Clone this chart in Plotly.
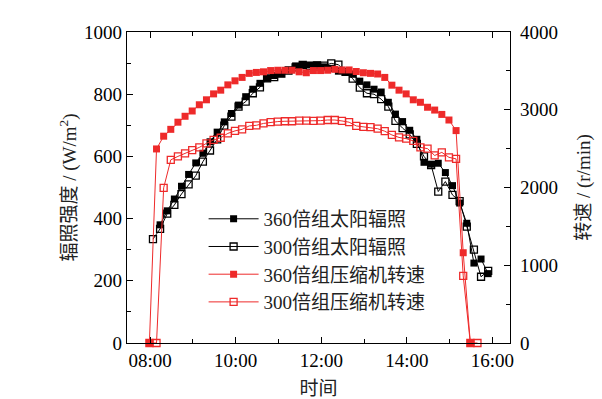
import plotly.graph_objects as go

# ---- data ----
# sampling times (10-min logger) for compressor speed and irradiance
t_speed = ["07:59", "08:09", "08:19", "08:29", "08:39", "08:49", "08:59",
           "09:09", "09:19", "09:29", "09:39", "09:49", "09:59",
           "10:09", "10:19", "10:29", "10:39", "10:49", "10:59",
           "11:09", "11:19", "11:29", "11:39", "11:49", "11:59",
           "12:09", "12:19", "12:29", "12:39", "12:49", "12:59",
           "13:09", "13:19", "13:29", "13:39", "13:49", "13:59",
           "14:09", "14:19", "14:29", "14:39", "14:49", "14:59",
           "15:09", "15:19", "15:29", "15:39"]
t_irr = ["08:04", "08:14", "08:24", "08:34", "08:44", "08:54",
         "09:04", "09:14", "09:24", "09:34", "09:44", "09:54",
         "10:04", "10:14", "10:24", "10:34", "10:44", "10:54",
         "11:04", "11:14", "11:24", "11:34", "11:44", "11:54",
         "12:04", "12:14", "12:24", "12:34", "12:44", "12:54",
         "13:04", "13:14", "13:24", "13:34", "13:44", "13:54",
         "14:04", "14:14", "14:24", "14:34", "14:44", "14:54",
         "15:04", "15:14", "15:24", "15:34", "15:44", "15:54"]

# irradiance W/m2
irr_360 = [380, 425, 463, 504, 542,
           579, 610, 647, 678, 711, 738,
           765, 792, 816, 835, 851, 860,
           866, 878, 891, 893, 894, 894,
           888, 883, 874, 872, 864, 842,
           830, 816, 807, 774, 736, 712,
           684, 655, 581, 575, 578, 548,
           506, 450, 385, 257, 270, 223]
irr_300 = [334, 367, 416, 444, 479, 510,
           538, 583, 619, 655, 699, 728,
           760, 776, 803, 822, 851, 855,
           866, 876, 886, 894, 890, 893,
           892, 899, 895, 872, 850, 821,
           803, 800, 784, 760, 714, 691,
           671, 640, 600, 572, 487, 519,
           476, 456, 374, 300, 213, 232]

# compressor speed r/min
spd_360 = [0, 2496, 2660, 2748, 2840, 2916, 2984,
           3064, 3128, 3204, 3252, 3320, 3372,
           3416, 3468, 3480, 3488, 3504, 3508,
           3508, 3508, 3488, 3476, 3504, 3504,
           3508, 3520, 3512, 3512, 3492, 3476,
           3468, 3460, 3416, 3316, 3252, 3204,
           3128, 3096, 3032, 2996, 2940, 2868,
           2732, 1161, 0]
spd_300 = [0, 0, 1996, 2356, 2400, 2440, 2480,
           2516, 2568, 2612, 2640, 2696, 2728,
           2748, 2792, 2800, 2824, 2840, 2848,
           2852, 2852, 2860, 2860, 2856, 2860,
           2868, 2868, 2856, 2840, 2792, 2780,
           2776, 2756, 2724, 2676, 2644, 2628,
           2600, 2516, 2500, 2412, 2452, 2388,
           2368, 864, 0, 0]

names = ["360倍组太阳辐照", "300倍组太阳辐照", "360倍组压缩机转速", "300倍组压缩机转速"]

DAY = "2000-01-01 "
def ts(lst):
    return [DAY + s + ":00" for s in lst]

RED = "#EE2A2A"
SERIF = "Liberation Serif, Noto Sans CJK SC"

fig = go.Figure()
fig.add_trace(go.Scatter(x=ts(t_irr[1:]), y=irr_360, name=names[0], mode="lines+markers",
                         line=dict(color="black", width=1),
                         marker=dict(symbol="square", size=7, color="black"),
                         cliponaxis=False))
fig.add_trace(go.Scatter(x=ts(t_irr), y=irr_300, name=names[1], mode="lines+markers",
                         line=dict(color="black", width=1),
                         marker=dict(symbol="square-open", size=7, color="black",
                                     line=dict(width=1.3, color="black")),
                         cliponaxis=False))
fig.add_trace(go.Scatter(x=ts(t_speed[:len(spd_360)]), y=spd_360, name=names[2], mode="lines+markers",
                         yaxis="y2", line=dict(color=RED, width=1),
                         marker=dict(symbol="square", size=7, color=RED),
                         cliponaxis=False))
fig.add_trace(go.Scatter(x=ts(t_speed), y=spd_300, name=names[3], mode="lines+markers",
                         yaxis="y2", line=dict(color=RED, width=1),
                         marker=dict(symbol="square-open", size=7, color=RED,
                                     line=dict(width=1.3, color=RED)),
                         cliponaxis=False))

axis_common = dict(showline=True, linecolor="black", linewidth=1.3, ticks="inside",
                   ticklen=6, tickwidth=1.2, tickcolor="black", showgrid=False,
                   zeroline=False, tickfont=dict(family=SERIF, size=19, color="black"))

fig.update_layout(
    width=602, height=399,
    margin=dict(l=127, r=92, t=32, b=56, autoexpand=False),
    paper_bgcolor="white", plot_bgcolor="white",
    showlegend=True,
    legend=dict(x=0.2, y=0.46, xanchor="left", yanchor="top",
                bgcolor="rgba(0,0,0,0)", font=dict(family=SERIF, size=19, color="#222"),
                tracegroupgap=0, itemwidth=50),
    xaxis=dict(type="date", range=[DAY + "07:27:36", DAY + "16:24:36"],
               tickformat="%H:%M", tick0=DAY + "08:00:00", dtick=7200000,
               minor=dict(dtick=3600000, tick0=DAY + "08:00:00", ticks="inside",
                          ticklen=3.5, tickwidth=1.2, tickcolor="black"),
               mirror="ticks",
               title=dict(text="时间", font=dict(family=SERIF, size=19, color="#222"), standoff=21),
               **axis_common),
    yaxis=dict(range=[0, 1000], dtick=200, tick0=0,
               minor=dict(dtick=100, ticks="inside", ticklen=3.5, tickwidth=1.2, tickcolor="black"),
               title=dict(text="辐照强度 / (W/m<sup>2</sup>)",
                          font=dict(family=SERIF, size=19, color="#222"), standoff=2),
               **axis_common),
    yaxis2=dict(range=[0, 4000], dtick=1000, tick0=0, overlaying="y", side="right",
                minor=dict(dtick=500, ticks="inside", ticklen=3.5, tickwidth=1.2, tickcolor="black"),
                ticklabelstandoff=5,
                title=dict(text="转速 / (r/min)",
                           font=dict(family=SERIF, size=19, color="#222"), standoff=19),
                **axis_common),
)

fig.write_html("out.html", config={"displayModeBar": False},
               post_script="document.body.style.margin='0';")
